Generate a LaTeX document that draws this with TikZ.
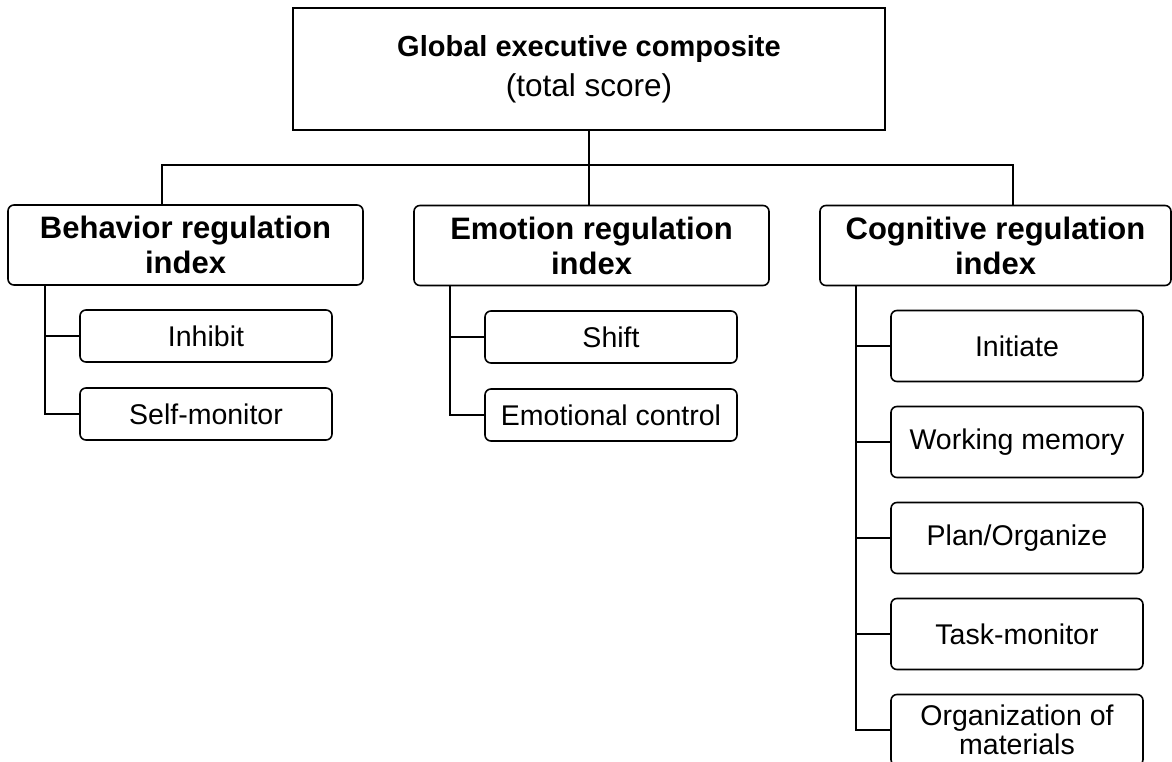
\documentclass[tikz,border=0pt]{standalone}
\usepackage{fontspec}
\setmainfont{Liberation Sans}
\usetikzlibrary{positioning}

\begin{document}
\begin{tikzpicture}[x=1pt,y=1pt,line width=1.6pt,
        head/.style={draw,rounded corners=6pt,minimum width=355pt,minimum height=80pt,
          align=center,inner sep=0pt,outer sep=0pt,font=\fontsize{31}{35}\selectfont\bfseries},
        item/.style={draw,rounded corners=6pt,minimum width=252pt,minimum height=52pt,
          align=center,inner sep=0pt,outer sep=0pt,font=\fontsize{28.5}{30}\selectfont},
        tall/.style={item,minimum height=71pt}]

  \useasboundingbox (0,0) rectangle (1172,-762);

  % top of the tree
  \node[draw,minimum width=592pt,minimum height=122pt,align=center,outer sep=0pt,
        font=\fontsize{29}{40}\selectfont] (gec) at (589,-69)
        {\textbf{Global executive composite}\\{\fontsize{31.5}{40}\selectfont(total score)}};

  % the three indices
  \node[head] (beh) at (185.5,-245) {Behavior regulation\\index};
  \node[head] (emo) at (591.5,-245.5) {Emotion regulation\\index};
  \node[head,minimum width=351pt] (cog) at (995.5,-245.5) {Cognitive regulation\\index};

  % scales
  \node[item] (inh) at (206,-336) {Inhibit};
  \node[item] (smon) [below of=inh,node distance=78pt] {Self-monitor};

  \node[item] (shf) at (611,-337) {Shift};
  \node[item] (emc) [below of=shf,node distance=78pt] {Emotional control};

  \node[tall] (ini) at (1017,-346) {Initiate};
  \node[tall] (wm) [below of=ini,node distance=96pt] {Working memory};
  \node[tall] (plo) [below of=wm,node distance=96pt] {Plan/Organize};
  \node[tall] (tmon) [below of=plo,node distance=96pt] {Task-monitor};
  \node[tall,font=\fontsize{28.5}{29}\selectfont] (orgm) [below of=tmon,node distance=96pt]
        {Organization of\\materials};

  \coordinate (bl) at (162,-165);
  \coordinate (br) at (1013,-165);

  \draw (gec.south) -- (gec.south |- emo.north);
  \draw (bl |- beh.north) -- (bl) -- (br) -- (br |- cog.north);

  \draw (beh.south west) ++(37,0) |- (inh.west);
  \draw (beh.south west) ++(37,0) |- (smon.west);
  \draw (emo.south west) ++(36,0) |- (shf.west);
  \draw (emo.south west) ++(36,0) |- (emc.west);
  \foreach \n in {ini,wm,plo,tmon,orgm}
    \draw (cog.south west) ++(36,0) |- (\n.west);

\end{tikzpicture}
\end{document}
